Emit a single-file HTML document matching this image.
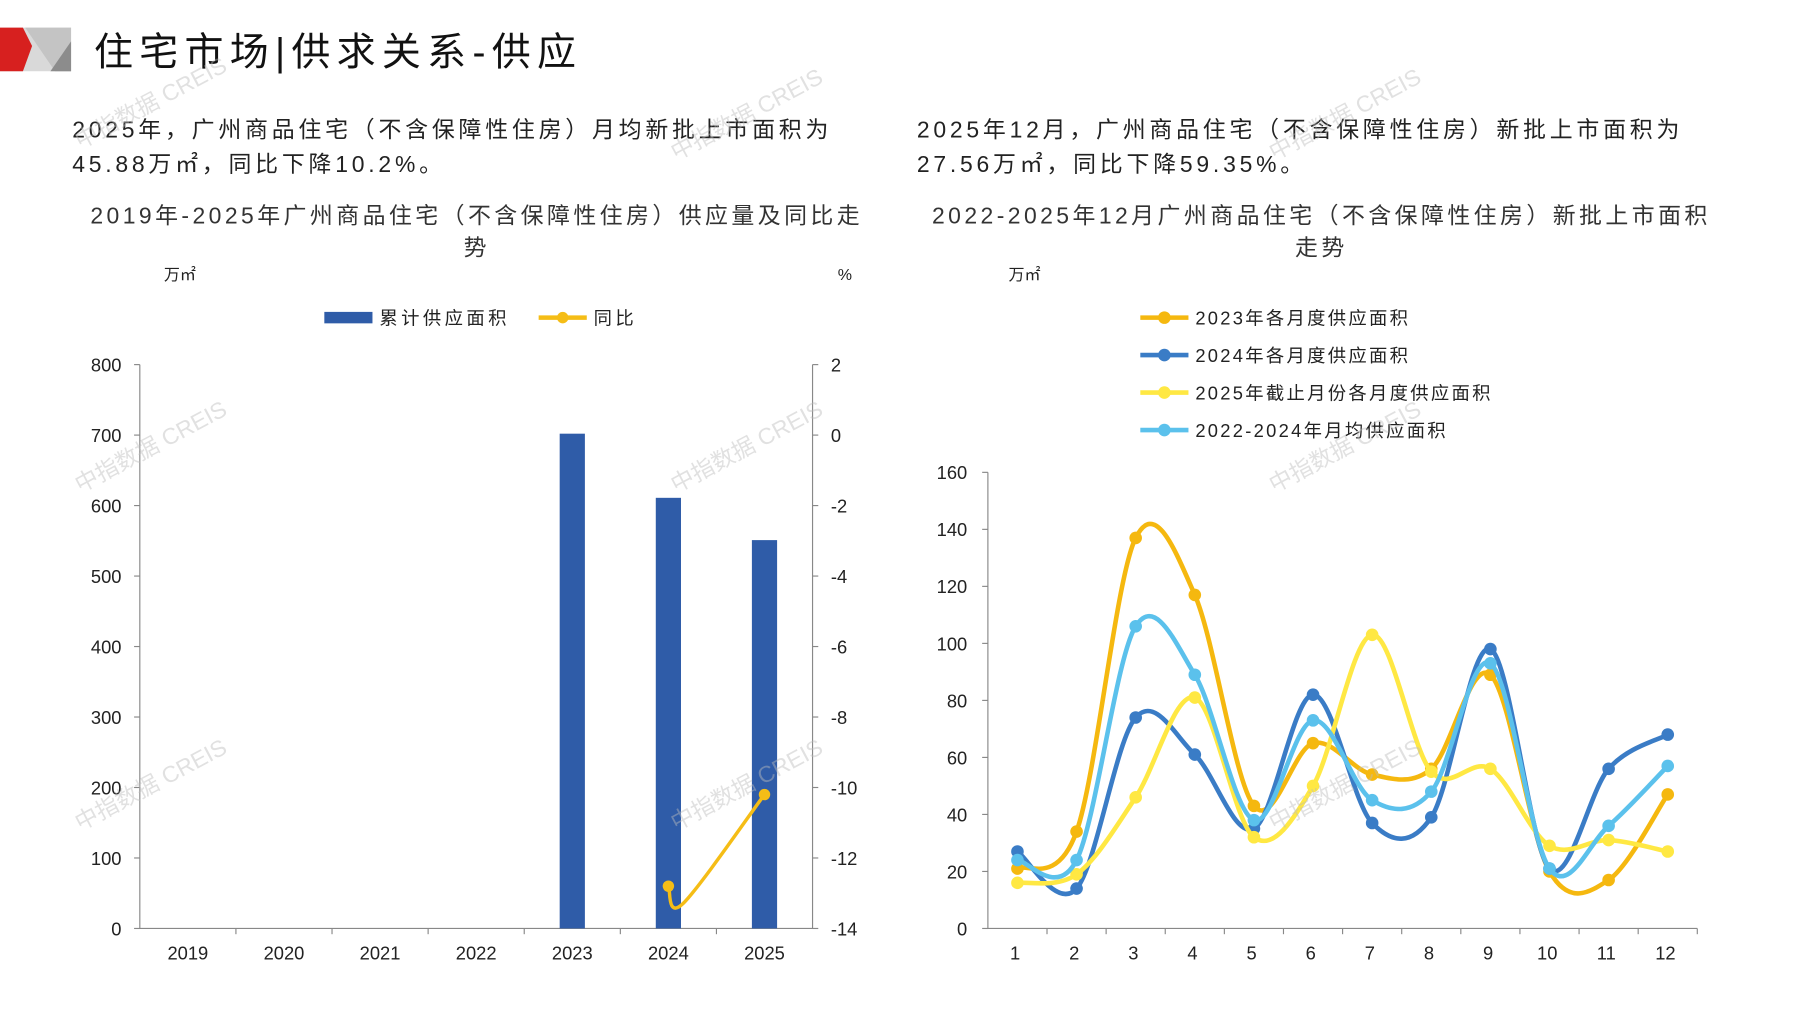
<!DOCTYPE html>
<html><head><meta charset="utf-8"><style>
html,body{margin:0;padding:0;background:#fff;}
svg{display:block;font-family:"Liberation Sans","Noto Sans CJK SC",sans-serif;}
</style></head><body>
<svg id="root" width="1797" height="1010" viewBox="0 0 1568 881" xmlns="http://www.w3.org/2000/svg">
<g>
<polygon points="0,24 62,24 62,62 0,62" fill="#d9d9d9"/>
<polygon points="22,24 62,24 62,62 48,62" fill="#c4c4c4"/>
<polygon points="62,36 62,62 44,62" fill="#8c8c8c"/>
<polygon points="0,24 20,24 28,40 20,62 0,62" fill="#d7201f"/>
</g>
<text x="82" y="57" font-size="34" letter-spacing="5.5" fill="#111">住宅市场|供求关系-供应</text>
<g font-size="20" fill="#222" letter-spacing="3.3">
<text x="63" y="120">2025年，广州商品住宅（不含保障性住房）月均新批上市面积为</text>
<text x="63" y="150">45.88万㎡，同比下降10.2%。</text>
<text x="800" y="120">2025年12月，广州商品住宅（不含保障性住房）新批上市面积为</text>
<text x="800" y="150">27.56万㎡，同比下降59.35%。</text>
</g>
<g font-size="20" fill="#333" text-anchor="middle" letter-spacing="3">
<text x="416" y="195">2019年-2025年广州商品住宅（不含保障性住房）供应量及同比走</text>
<text x="416" y="223">势</text>
<text x="1153" y="195">2022-2025年12月广州商品住宅（不含保障性住房）新批上市面积</text>
<text x="1153" y="223">走势</text>
</g>
<g font-size="14" fill="#222">
<text x="143" y="244">万㎡</text>
<text x="731" y="244">%</text>
<text x="880" y="244">万㎡</text>
</g>
<g id="left"></g>
<g id="right"></g>
<g id="wm" font-size="20" fill="#bbb" opacity="0.45"></g>
</svg>
<script>
const years=['2019','2020','2021','2022','2023','2024','2025'];
const supply=[null,null,null,null,702,611,551];
const yoy=[null,null,null,null,null,-12.8,-10.2];
const leftTicks=[0,100,200,300,400,500,600,700,800];
const rightTicks=[2,0,-2,-4,-6,-8,-10,-12,-14];
const months=['1','2','3','4','5','6','7','8','9','10','11','12'];
const s2023=[21,34,137,117,43,65,54,56,89,20,17,47];
const s2024=[27,14,74,61,35,82,37,39,98,21,56,68];
const s2025=[16,19,46,81,32,50,103,55,56,29,31,27];
const sAvg=[24,24,106,89,38,73,45,48,93,21,36,57];
const lineTicks=[0,20,40,60,80,100,120,140,160];
const NS='http://www.w3.org/2000/svg';
function mk(parent,tag,attrs,text){const e=document.createElementNS(NS,tag);for(const k in attrs)e.setAttribute(k,attrs[k]);if(text!==undefined)e.textContent=text;parent.appendChild(e);return e;}
function smooth(pts){let d='M'+pts[0][0]+','+pts[0][1];for(let i=0;i<pts.length-1;i++){const p0=pts[Math.max(0,i-1)],p1=pts[i],p2=pts[i+1],p3=pts[Math.min(pts.length-1,i+2)];const c1=[p1[0]+(p2[0]-p0[0])/6,p1[1]+(p2[1]-p0[1])/6],c2=[p2[0]-(p3[0]-p1[0])/6,p2[1]-(p3[1]-p1[1])/6];d+=' C'+c1+' '+c2+' '+p2;}return d;}
// left chart
const L=document.getElementById('left');
const lx0=122,lx1=709,ly0=810,ly1=318;
const ly=v=>ly0-(v/800)*(ly0-ly1);
const ry=v=>ly1+((2-v)/16)*(ly0-ly1);
const bw=(lx1-lx0)/7;
const lxc=i=>lx0+bw*(i+0.5);
mk(L,'path',{d:`M${lx0},${ly1}V${ly0}H${lx1}V${ly1}`,stroke:'#888',fill:'none','stroke-width':1});
leftTicks.forEach(t=>{const y=ly(t);mk(L,'line',{x1:lx0-5,x2:lx0,y1:y,y2:y,stroke:'#888'});const e=mk(L,'text',{x:lx0-16,y:y+6,'font-size':16,'text-anchor':'end',fill:'#222'},t);});
rightTicks.forEach(t=>{const y=ry(t);mk(L,'line',{x1:lx1,x2:lx1+5,y1:y,y2:y,stroke:'#888'});const e=mk(L,'text',{x:lx1+16,y:y+6,'font-size':16,fill:'#222'},t);});
years.forEach((yr,i)=>{const x=lx0+bw*(i+1);if(i<6)mk(L,'line',{x1:x,x2:x,y1:ly0,y2:ly0+5,stroke:'#888'});const e=mk(L,'text',{x:lxc(i),y:ly0+27,'font-size':16,'text-anchor':'middle',fill:'#222'},yr);
if(supply[i]!=null){const r=mk(L,'rect',{x:lxc(i)-11,y:ly(supply[i]),width:22,height:ly0-ly(supply[i]),fill:'#2f5ca8'});}});
const yp=[];yoy.forEach((v,i)=>{if(v!=null)yp.push([lxc(i),ry(v)]);});
if(yp.length>1){const p=mk(L,'path',{d:smooth(yp.length===2?[yp[0],[(yp[0][0]*0.85+yp[1][0]*0.15),ry(-13.3)],yp[1]]:yp),stroke:'#f5bd16',fill:'none','stroke-width':3});}
yp.forEach(p=>{const c=mk(L,'circle',{cx:p[0],cy:p[1],r:5,fill:'#f5bd16'});});
// left legend
const lg=mk(L,'g',{'letter-spacing':3});
mk(lg,'rect',{x:283,y:272,width:42,height:10,fill:'#2f5ca8'});mk(lg,'text',{x:331,y:283,'font-size':16,fill:'#222'},'累计供应面积');
mk(lg,'line',{x1:470,x2:512,y1:277,y2:277,stroke:'#f5bd16','stroke-width':4});mk(lg,'circle',{cx:491,cy:277,r:5,fill:'#f5bd16'});mk(lg,'text',{x:518,y:283,'font-size':16,fill:'#222'},'同比');
// right chart
const R=document.getElementById('right');
const rx0=862,rx1=1481,ry0=810,ry1=412;
const yv=v=>ry0-(v/160)*(ry0-ry1);
const step=(rx1-rx0)/12;
const xm=i=>rx0+step*(i+0.5);
mk(R,'path',{d:`M${rx0},${ry1}V${ry0}H${rx1}`,stroke:'#888',fill:'none'});
lineTicks.forEach(t=>{const y=yv(t);mk(R,'line',{x1:rx0-5,x2:rx0,y1:y,y2:y,stroke:'#888'});const e=mk(R,'text',{x:rx0-18,y:y+6,'font-size':16,'text-anchor':'end',fill:'#222'},t);});
months.forEach((m,i)=>{const x=rx0+step*(i+1);mk(R,'line',{x1:x,x2:x,y1:ry0,y2:ry0+5,stroke:'#888'});const e=mk(R,'text',{x:xm(i)-2,y:ry0+27,'font-size':16,'text-anchor':'middle',fill:'#222'},m);});
const series=[['series-2023',s2023,'#f5b80f','2023年各月度供应面积'],['series-2024',s2024,'#3a7cc6','2024年各月度供应面积'],['series-2025',s2025,'#ffe843','2025年截止月份各月度供应面积'],['series-avg',sAvg,'#5bc1ec','2022-2024年月均供应面积']];
series.forEach(([name,data,col,label],k)=>{const g=mk(R,'g',{});
const pts=data.map((v,i)=>[xm(i),yv(v)]);mk(g,'path',{d:smooth(pts),stroke:col,fill:'none','stroke-width':4});
pts.forEach(p=>{const c=mk(g,'circle',{cx:p[0],cy:p[1],r:5.5,fill:col});});
const ly2=277+k*32.7;const lgE=mk(R,'g',{'letter-spacing':2});
mk(lgE,'line',{x1:995,x2:1037,y1:ly2,y2:ly2,stroke:col,'stroke-width':4});mk(lgE,'circle',{cx:1016,cy:ly2,r:5.5,fill:col});mk(lgE,'text',{x:1043,y:ly2+6,'font-size':16,fill:'#222'},label);});
// watermarks
const W=document.getElementById('wm');
[[70,130],[590,140],[1112,140],[70,430],[590,430],[1112,430],[70,725],[590,725],[1112,725]].forEach(([x,y])=>{const t=mk(W,'text',{x:x,y:y,transform:`rotate(-28 ${x} ${y})`},'中指数据 CREIS');});
</script>
</body></html>
